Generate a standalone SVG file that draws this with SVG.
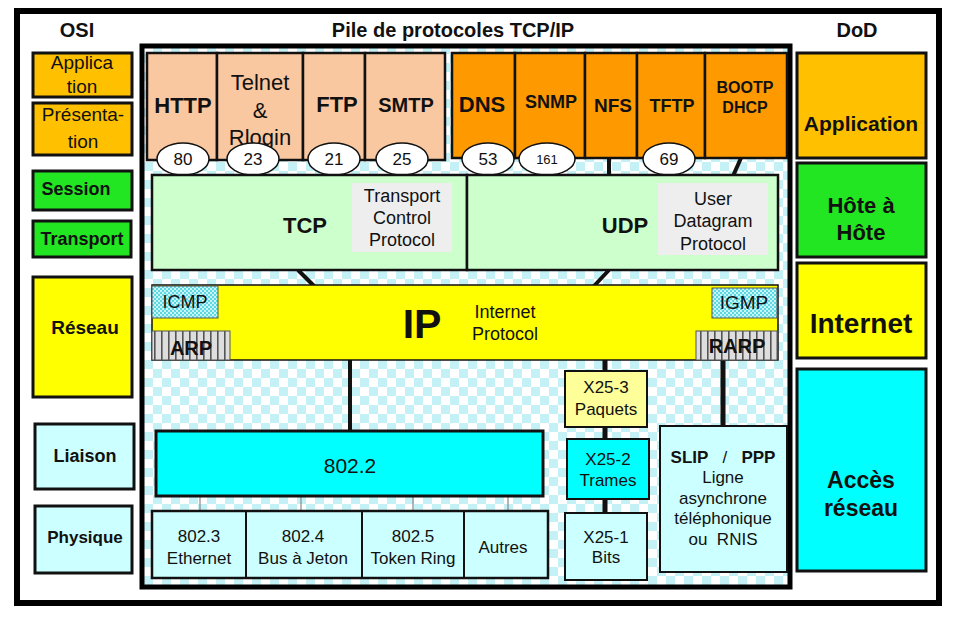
<svg xmlns="http://www.w3.org/2000/svg" width="960" height="620" viewBox="0 0 960 620">
<defs>
<pattern id="checker" width="18" height="18" patternUnits="userSpaceOnUse">
<rect width="18" height="18" fill="#ffffff"/>
<rect width="9" height="9" fill="#c4f1f6"/>
<rect x="9" y="9" width="9" height="9" fill="#c4f1f6"/>
</pattern>
<pattern id="dots" width="4" height="4" patternUnits="userSpaceOnUse">
<rect width="4" height="4" fill="#c8f4f6"/>
<rect width="2" height="2" fill="#5cd8e2"/>
<rect x="2" y="2" width="2" height="2" fill="#5cd8e2"/>
</pattern>
<pattern id="stripes" width="7" height="10" patternUnits="userSpaceOnUse">
<rect width="7" height="10" fill="#dedede"/>
<rect width="1.6" height="10" fill="#555555"/>
</pattern>
</defs>
<style>
text{font-family:"Liberation Sans",Arial,sans-serif;fill:#111;text-anchor:middle}
.b{font-weight:bold}
.box{stroke:#111;stroke-width:3}
.pb{stroke:#111;stroke-width:2.5}
.thin{stroke:#111;stroke-width:2}
.ell{fill:#fff;stroke:#111;stroke-width:1.5}
.peach{fill:#fac8a0}
.orange{fill:#ff9900}
.appl{fill:#ffc000}
.green{fill:#22e622}
.yellow{fill:#ffff00}
.cyan{fill:#00ffff}
.lcyan{fill:#ccffff}
.lgreen{fill:#ccffcc}
.gray{fill:#eeeeee}
.conn{stroke:#111;fill:none}
.gconn{stroke:#888;stroke-width:1.2}
</style>
<rect x="0" y="0" width="960" height="620" fill="#fff"/>
<rect x="17" y="11" width="922" height="592" fill="#fff" stroke="#000" stroke-width="6"/>
<text x="77" y="37" class="b" font-size="20">OSI</text>
<text x="453" y="37" class="b" font-size="20">Pile de protocoles TCP/IP</text>
<text x="857" y="37" class="b" font-size="20">DoD</text>
<rect id="stack" x="142" y="46" width="648" height="541" fill="url(#checker)" stroke="#000" stroke-width="5"/>

<g id="osi-application"><rect class="box appl" x="33" y="53" width="99" height="44"/><text x="82" y="69" font-size="19">Applica</text><text x="82" y="93" font-size="19">tion</text></g>
<g id="osi-presentation"><rect class="box appl" x="33" y="103" width="99" height="52"/><text x="83" y="121" font-size="19">Présenta-</text><text x="83" y="148" font-size="19">tion</text></g>
<g id="osi-session"><rect class="box green" x="33" y="171" width="99" height="39"/><text x="76" y="195" class="b" font-size="18">Session</text></g>
<g id="osi-transport"><rect class="box green" x="33" y="221" width="98" height="36"/><text x="82" y="245" class="b" font-size="18">Transport</text></g>
<g id="osi-reseau"><rect class="box yellow" x="33" y="277" width="99" height="120"/><text x="85" y="334" class="b" font-size="19">Réseau</text></g>
<g id="osi-liaison"><rect class="box lcyan" x="35" y="424" width="99" height="65"/><text x="85" y="462" class="b" font-size="18">Liaison</text></g>
<g id="osi-physique"><rect class="box lcyan" x="35" y="506" width="97" height="67"/><text x="85" y="543" class="b" font-size="17">Physique</text></g>

<g id="dod-application"><rect class="box appl" x="797" y="53" width="129" height="105"/><text x="861" y="131" class="b" font-size="21">Application</text></g>
<g id="dod-hote"><rect class="box green" x="797" y="163" width="129" height="94"/><text x="861" y="213" class="b" font-size="22">Hôte à</text><text x="861" y="240" class="b" font-size="22">Hôte</text></g>
<g id="dod-internet"><rect class="box yellow" x="797" y="263" width="129" height="95"/><text x="861" y="333" class="b" font-size="28">Internet</text></g>
<g id="dod-acces"><rect class="box cyan" x="797" y="369" width="129" height="202"/><text x="861" y="488" class="b" font-size="23">Accès</text><text x="861" y="516" class="b" font-size="23">réseau</text></g>

<g id="connectors">
<line class="conn" x1="609" y1="158" x2="609" y2="176" stroke-width="4"/>
<line class="conn" x1="741" y1="158" x2="733" y2="176" stroke-width="4"/>
<line class="conn" x1="298" y1="270" x2="314" y2="286" stroke-width="4"/>
<line class="conn" x1="609" y1="270" x2="594" y2="286" stroke-width="4"/>
<line class="conn" x1="350" y1="360" x2="350" y2="431" stroke-width="4"/>
<line class="conn" x1="605" y1="360" x2="605" y2="371" stroke-width="5"/>
<line class="conn" x1="605" y1="427" x2="605" y2="439" stroke-width="5"/>
<line class="conn" x1="605" y1="499" x2="605" y2="514" stroke-width="5"/>
<line class="conn" x1="723" y1="360" x2="723" y2="427" stroke-width="5"/>
<line class="gconn" x1="200" y1="496" x2="200" y2="511"/>
<line class="gconn" x1="301" y1="496" x2="301" y2="511"/>
<line class="gconn" x1="413" y1="496" x2="413" y2="511"/>
<line class="gconn" x1="508" y1="496" x2="508" y2="511"/>
</g>

<g id="http"><rect class="pb peach" x="147" y="53" width="70" height="107"/><text x="183" y="113" class="b" font-size="22">HTTP</text></g>
<g id="telnet"><rect class="pb peach" x="217" y="53" width="86" height="107"/><text x="260" y="90" font-size="22">Telnet</text><text x="260" y="118" font-size="22">&amp;</text><text x="260" y="145" font-size="22">Rlogin</text></g>
<g id="ftp"><rect class="pb peach" x="303" y="53" width="62" height="107"/><text x="337" y="112" class="b" font-size="22">FTP</text></g>
<g id="smtp"><rect class="pb peach" x="365" y="53" width="80" height="107"/><text x="406" y="112" class="b" font-size="20">SMTP</text></g>
<g id="dns"><rect class="pb orange" x="452" y="53" width="63" height="105"/><text x="482" y="112" class="b" font-size="22">DNS</text></g>
<g id="snmp"><rect class="pb orange" x="515" y="53" width="70" height="105"/><text x="551" y="108" class="b" font-size="18">SNMP</text></g>
<g id="nfs"><rect class="pb orange" x="585" y="53" width="52" height="105"/><text x="613" y="112" class="b" font-size="19">NFS</text></g>
<g id="tftp"><rect class="pb orange" x="637" y="53" width="68" height="105"/><text x="672" y="112" class="b" font-size="18">TFTP</text></g>
<g id="bootp"><rect class="pb orange" x="705" y="53" width="82" height="105"/><text x="745" y="93" class="b" font-size="16">BOOTP</text><text x="745" y="113" class="b" font-size="16">DHCP</text></g>

<g id="port80"><ellipse class="ell" cx="183" cy="159" rx="26" ry="16"/><text x="183" y="165" font-size="17">80</text></g>
<g id="port23"><ellipse class="ell" cx="253" cy="159" rx="26" ry="16"/><text x="253" y="165" font-size="17">23</text></g>
<g id="port21"><ellipse class="ell" cx="334" cy="159" rx="26" ry="16"/><text x="334" y="165" font-size="17">21</text></g>
<g id="port25"><ellipse class="ell" cx="402" cy="159" rx="26" ry="16"/><text x="402" y="165" font-size="17">25</text></g>
<g id="port53"><ellipse class="ell" cx="488" cy="159" rx="26" ry="16"/><text x="488" y="165" font-size="17">53</text></g>
<g id="port161"><ellipse class="ell" cx="547" cy="159" rx="28" ry="16"/><text x="547" y="164" font-size="13">161</text></g>
<g id="port69"><ellipse class="ell" cx="669" cy="159" rx="26" ry="16"/><text x="669" y="165" font-size="17">69</text></g>

<g id="tcp"><rect class="pb lgreen" x="152" y="175" width="315" height="95"/><text x="305" y="233" class="b" font-size="22">TCP</text><rect class="gray" x="352" y="183" width="100" height="69"/><text x="402" y="202" font-size="18">Transport</text><text x="402" y="224" font-size="18">Control</text><text x="402" y="246" font-size="18">Protocol</text></g>
<g id="udp"><rect class="pb lgreen" x="467" y="175" width="311" height="95"/><text x="625" y="233" class="b" font-size="22">UDP</text><rect class="gray" x="658" y="183" width="110" height="72"/><text x="713" y="205" font-size="18">User</text><text x="713" y="227" font-size="18">Datagram</text><text x="713" y="250" font-size="18">Protocol</text></g>

<g id="ip"><rect x="152" y="285" width="626" height="75" fill="#ffff00" stroke="#111" stroke-width="1.5"/><text x="422" y="338" class="b" font-size="41">IP</text><text x="505" y="318" font-size="18">Internet</text><text x="505" y="340" font-size="18">Protocol</text></g>
<g id="icmp"><rect x="152" y="286" width="66" height="32" fill="url(#dots)" stroke="#555" stroke-width="1"/><text x="185" y="308" font-size="18">ICMP</text></g>
<g id="arp"><rect x="152" y="331" width="78" height="29" fill="url(#stripes)" stroke="#555" stroke-width="1"/><text x="191" y="355" class="b" font-size="20">ARP</text></g>
<g id="igmp"><rect x="712" y="288" width="65" height="30" fill="url(#dots)" stroke="#555" stroke-width="1"/><text x="744" y="309" font-size="19">IGMP</text></g>
<g id="rarp"><rect x="696" y="331" width="81" height="29" fill="url(#stripes)" stroke="#555" stroke-width="1"/><text x="737" y="353" class="b" font-size="20">RARP</text></g>

<g id="ieee8022"><rect class="box cyan" x="156" y="431" width="387" height="65"/><text x="350" y="473" font-size="21">802.2</text></g>
<g id="lower"><rect class="pb lcyan" x="152" y="511" width="396" height="67"/>
<line class="thin" x1="246" y1="511" x2="246" y2="578"/><line class="thin" x1="362" y1="511" x2="362" y2="578"/><line class="thin" x1="464" y1="511" x2="464" y2="578"/></g>
<g id="ieee8023"><text x="199" y="542" font-size="17">802.3</text><text x="199" y="564" font-size="17">Ethernet</text></g>
<g id="ieee8024"><text x="303" y="542" font-size="17">802.4</text><text x="303" y="564" font-size="17">Bus à Jeton</text></g>
<g id="ieee8025"><text x="413" y="542" font-size="17">802.5</text><text x="413" y="564" font-size="17">Token Ring</text></g>
<g id="autres"><text x="503" y="553" font-size="17">Autres</text></g>

<g id="x25-3"><rect class="thin" x="565" y="371" width="82" height="56" fill="#ffff99"/><text x="606" y="393" font-size="17">X25-3</text><text x="606" y="415" font-size="17">Paquets</text></g>
<g id="x25-2"><rect class="thin cyan" x="567" y="439" width="82" height="60"/><text x="608" y="465" font-size="17">X25-2</text><text x="608" y="486" font-size="17">Trames</text></g>
<g id="x25-1"><rect class="thin lcyan" x="565" y="513" width="82" height="67"/><text x="606" y="543" font-size="17">X25-1</text><text x="606" y="563" font-size="17">Bits</text></g>
<g id="slip"><rect class="thin lcyan" x="660" y="426" width="127" height="146"/><text x="723" y="463" font-size="17" xml:space="preserve"><tspan class="b">SLIP</tspan>   /   <tspan class="b">PPP</tspan></text><text x="723" y="483" font-size="17">Ligne</text><text x="723" y="504" font-size="17">asynchrone</text><text x="723" y="524" font-size="17">téléphonique</text><text x="723" y="545" font-size="17" xml:space="preserve">ou  RNIS</text></g>
</svg>
